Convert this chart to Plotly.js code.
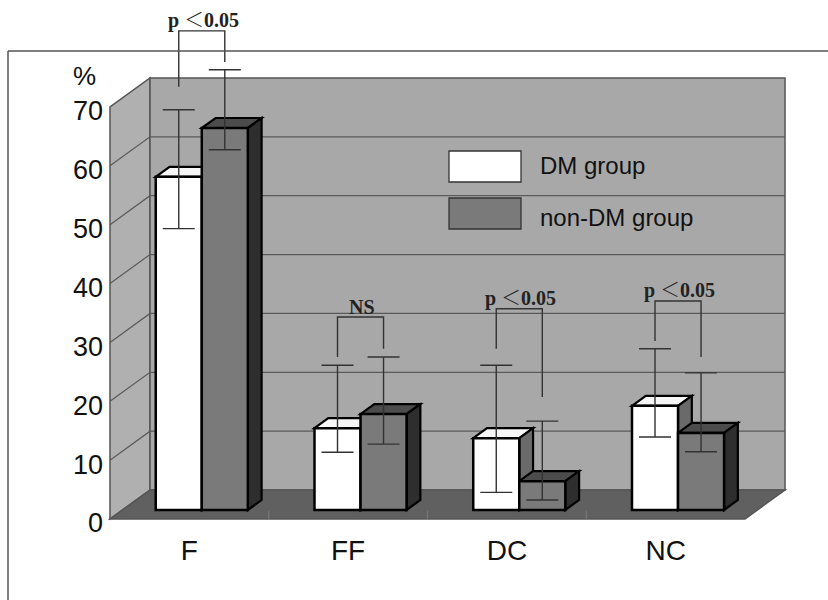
<!DOCTYPE html>
<html><head><meta charset="utf-8">
<script src="https://cdn.plot.ly/plotly-3.0.1.min.js"></script>
<style>html,body{margin:0;padding:0;background:#fff}</style>
</head><body><div id="chart" style="width:828px;height:600px"></div>
<script>
// ---- data ----
const categories = ["F", "FF", "DC", "NC"];
const seriesNames = ["DM group", "non-DM group"];
const dmValues = [56.6, 13.9, 12.2, 17.7];
const dmErrPlus = [11.4, 10.7, 12.4, 9.7];
const dmErrMinus = [8.8, 4.1, 9.2, 5.3];
const nonDmValues = [64.9, 16.3, 4.9, 13.1];
const nonDmErrPlus = [9.9, 9.7, 10.2, 10.2];
const nonDmErrMinus = [3.7, 5.1, 3.2, 3.2];
const sigLabels = ["p ＜0.05", "NS", "p ＜0.05", "p ＜0.05"];
const bracketTop = [81.4, 32.8, 34.2, 35.5];
const bracketLegLeft = [71.9, 26.0, 27.4, 28.7];
const bracketLegRight = [76.1, 27.4, 19.2, 26.0];
const yTicks = [0, 10, 20, 30, 40, 50, 60, 70];
const yMax = 70;

// ---- geometry / style ----
const W = 828, H = 600;
const catPx = 158.75, barPlaneLeftPx = 122.4;
const unitPx = 5.886, zeroPx = 510;
const xRange = [-barPlaneLeftPx / catPx - 0.5, (W - barPlaneLeftPx) / catPx - 0.5];
const yRange = [-(H - zeroPx) / unitPx, zeroPx / unitPx];
const front = {dx: -12.4 / catPx, dy: -9 / unitPx};
const depthAll = {dx: 40 / catPx, dy: 29 / unitPx};
const barD = {dx: (10 / 29) * 40 / catPx, dy: 10 / unitPx};
const barW = 0.29;
const n = categories.length;

function P(xf, v, d) {
  return [xf + front.dx + d * depthAll.dx, v + front.dy + d * depthAll.dy];
}
function poly(pts) {
  return 'M' + pts.map(p => p[0].toFixed(4) + ',' + p[1].toFixed(4)).join('L') + 'Z';
}
function line(pts) {
  return 'M' + pts.map(p => p[0].toFixed(4) + ',' + p[1].toFixed(4)).join('L');
}
const xL = -0.5, xR = n - 0.5;
const shapes = [];
function addPath(path, fill, lc, lw, layer) {
  shapes.push({type: 'path', xref: 'x', yref: 'y', path: path, fillcolor: fill,
    line: {color: lc, width: lw}, layer: layer || 'below'});
}
// walls and floor
addPath(poly([P(xL, 0, 0), P(xL, 0, 1), P(xL, yMax, 1), P(xL, yMax, 0)]), '#b0b0b0', '#555', 1.5);
addPath(poly([P(xL, 0, 1), P(xR, 0, 1), P(xR, yMax, 1), P(xL, yMax, 1)]), '#a8a8a8', '#555', 1.5);
addPath(poly([P(xL, 0, 0), P(xR, 0, 0), P(xR, 0, 1), P(xL, 0, 1)]), '#606060', '#555', 1.5);
// gridlines
yTicks.filter(v => v > 0 && v < yMax).forEach(v => {
  addPath(line([P(xL, v, 0), P(xL, v, 1), P(xR, v, 1)]), 'rgba(0,0,0,0)', '#5a5a5a', 1.2);
});
// category boundary ticks on floor front edge
for (let i = 0; i < n - 1; i++) {
  addPath(line([P(i + 0.5, 0, 0), P(i + 0.5, 1.4, 0)]), 'rgba(0,0,0,0)', '#777', 1.2);
}
// bar top / side faces
function barFaces(x0, x1, v, topFill, sideFill) {
  addPath(poly([[x0, v], [x1, v], [x1 + barD.dx, v + barD.dy], [x0 + barD.dx, v + barD.dy]]), topFill, '#000', 2.2);
  addPath(poly([[x1, 0], [x1, v], [x1 + barD.dx, v + barD.dy], [x1 + barD.dx, barD.dy]]), sideFill, '#000', 2.2);
}
for (let i = 0; i < n; i++) {
  barFaces(i - barW, i, dmValues[i], '#f6f6f6', '#6a6a6a');
  barFaces(i, i + barW, nonDmValues[i], '#4c4c4c', '#2e2e2e');
}
// significance brackets
for (let i = 0; i < n; i++) {
  const a = i - barW / 2, b = i + barW / 2;
  addPath(line([[a, bracketLegLeft[i]], [a, bracketTop[i]], [b, bracketTop[i]], [b, bracketLegRight[i]]]),
    'rgba(0,0,0,0)', '#333', 1.4, 'above');
}
// outer frame (paper)
shapes.push({type: 'line', xref: 'paper', yref: 'paper', x0: 8 / W, x1: 1, y0: 1 - 51 / H, y1: 1 - 51 / H, line: {color: '#555', width: 1.5}, layer: 'above'});
shapes.push({type: 'line', xref: 'paper', yref: 'paper', x0: 8 / W, x1: 8 / W, y0: 0, y1: 1 - 51 / H, line: {color: '#555', width: 1.5}, layer: 'above'});
// legend boxes (paper)
shapes.push({type: 'rect', xref: 'paper', yref: 'paper', x0: 449 / W, x1: 521 / W, y0: 1 - 182 / H, y1: 1 - 151 / H, fillcolor: '#ffffff', line: {color: '#333', width: 1.3}, layer: 'above'});
shapes.push({type: 'rect', xref: 'paper', yref: 'paper', x0: 449 / W, x1: 521 / W, y0: 1 - 229 / H, y1: 1 - 198 / H, fillcolor: '#7a7a7a', line: {color: '#333', width: 1.3}, layer: 'above'});

const sansFont = 'Liberation Sans, Arial, sans-serif';
const annotations = [];
annotations.push({xref: 'paper', yref: 'paper', x: 84 / W, y: 1 - 76 / H, text: '%', showarrow: false,
  font: {family: sansFont, size: 26, color: '#111'}, xanchor: 'center', yanchor: 'middle'});
annotations.push({xref: 'paper', yref: 'paper', x: 538 / W, y: 1 - 166 / H, text: seriesNames[0], showarrow: false,
  font: {family: sansFont, size: 24, color: '#111'}, xanchor: 'left', yanchor: 'middle'});
annotations.push({xref: 'paper', yref: 'paper', x: 538 / W, y: 1 - 218 / H, text: seriesNames[1], showarrow: false,
  font: {family: sansFont, size: 24, color: '#111'}, xanchor: 'left', yanchor: 'middle'});
for (let i = 0; i < n; i++) {
  annotations.push({xref: 'x', yref: 'y', x: i + 0.01, y: bracketTop[i], text: sigLabels[i], showarrow: false,
    xanchor: 'center', yanchor: 'bottom', yshift: -3,
    font: {family: 'Liberation Serif, "Noto Serif CJK JP", "Noto Sans CJK JP", serif', size: 20, color: '#222', weight: 'bold'}});
}

const xIdx = categories.map((c, i) => i);
const traces = [
  {type: 'bar', x: xIdx, y: dmValues, name: seriesNames[0],
    marker: {color: '#ffffff', line: {color: '#000', width: 2.5}},
    error_y: {type: 'data', symmetric: false, array: dmErrPlus, arrayminus: dmErrMinus, color: '#333', thickness: 1.4, width: 16},
    showlegend: false, hoverinfo: 'skip'},
  {type: 'bar', x: xIdx, y: nonDmValues, name: seriesNames[1],
    marker: {color: '#7a7a7a', line: {color: '#000', width: 2.5}},
    error_y: {type: 'data', symmetric: false, array: nonDmErrPlus, arrayminus: nonDmErrMinus, color: '#333', thickness: 1.4, width: 16},
    showlegend: false, hoverinfo: 'skip'}
];

const layout = {
  width: W, height: H,
  margin: {l: 0, r: 0, t: 0, b: 0, pad: 0},
  paper_bgcolor: '#ffffff', plot_bgcolor: '#ffffff',
  barmode: 'group', bargap: 1 - 2 * barW, bargroupgap: 0,
  showlegend: false,
  xaxis: {range: xRange, domain: [0, 1], anchor: 'free', position: 1 - 519 / H,
    tickmode: 'array', tickvals: xIdx.map(i => i + front.dx), ticktext: categories,
    showgrid: false, zeroline: false, showline: false, ticks: '',
    tickfont: {family: sansFont, size: 28, color: '#111'}, ticklabelstandoff: 12, fixedrange: true},
  yaxis: {range: yRange, domain: [0, 1], anchor: 'free', position: 110 / W,
    tickmode: 'array', tickvals: yTicks.map(v => v + front.dy), ticktext: yTicks.map(String),
    showgrid: false, zeroline: false, showline: false, ticks: '',
    tickfont: {family: sansFont, size: 27, color: '#111'}, ticklabelstandoff: 7, ticklabelshift: 4, fixedrange: true},
  shapes: shapes,
  annotations: annotations
};
Plotly.newPlot('chart', traces, layout, {staticPlot: true, displayModeBar: false});
</script>
</body></html>
